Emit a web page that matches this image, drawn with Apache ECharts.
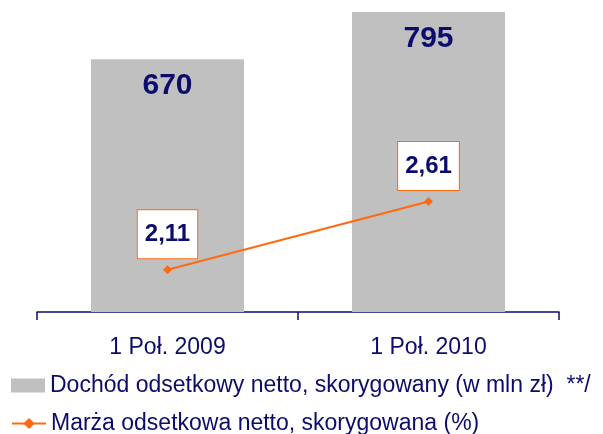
<!DOCTYPE html>
<html>
<head>
<meta charset="utf-8">
<script src="https://cdn.jsdelivr.net/npm/echarts@6/dist/echarts.min.js"></script>
<style>
  html, body { margin: 0; padding: 0; background: #fff; }
  #chart { width: 603px; height: 434px; }
</style>
</head>
<body>
<div id="chart"></div>
<script>
const categories = ["1 Poł. 2009", "1 Poł. 2010"];
const incomeValues = [670, 795];
const marginValues = [2.11, 2.61];
const incomeName = "Dochód odsetkowy netto, skorygowany (w mln zł)  **/";
const marginName = "Marża odsetkowa netto, skorygowana (%)";

const navy = "#0c0c6c";
const orange = "#ff6a10";
const font = "Liberation Sans";

const legendText = { color: navy, fontSize: 23, fontFamily: font };

const chart = echarts.init(document.getElementById("chart"));
chart.setOption({
  animation: false,
  textStyle: { fontFamily: font },
  grid: { left: 37, right: 44, top: 12, bottom: 122 },
  legend: [
    {
      left: 6, top: 369,
      itemWidth: 34, itemHeight: 14,
      textStyle: legendText,
      data: [{ name: incomeName, icon: "rect" }]
    },
    {
      left: 6, top: 407,
      itemWidth: 34, itemHeight: 14,
      textStyle: legendText,
      data: [{ name: marginName }]
    }
  ],
  xAxis: {
    type: "category",
    data: categories,
    axisLine: { lineStyle: { color: navy, width: 1.5 } },
    axisTick: { show: true, length: 8, lineStyle: { color: navy, width: 1.5 } },
    axisLabel: { color: navy, fontSize: 23, margin: 24 }
  },
  yAxis: [
    { type: "value", min: 0, max: 795, show: false, splitLine: { show: false } },
    { type: "value", min: 1.8, max: 4.0, show: false, splitLine: { show: false } }
  ],
  series: [
    {
      name: incomeName,
      type: "bar",
      data: incomeValues,
      barWidth: 153,
      itemStyle: { color: "#c0c0c0" },
      label: {
        show: true,
        position: "insideTop",
        distance: 12,
        color: navy,
        fontSize: 30,
        fontWeight: "bold"
      }
    },
    {
      name: marginName,
      type: "line",
      yAxisIndex: 1,
      data: marginValues,
      symbol: "diamond",
      symbolSize: 9,
      lineStyle: { color: orange, width: 2 },
      itemStyle: { color: orange },
      label: {
        show: true,
        position: "top",
        distance: 7,
        color: navy,
        fontSize: 24,
        fontWeight: "bold",
        lineHeight: 26,
        backgroundColor: "#fff",
        borderColor: orange,
        borderWidth: 1,
        padding: [11, 7, 11, 7],
        formatter: p => String(p.value).replace(".", ",")
      }
    }
  ]
});
</script>
</body>
</html>
